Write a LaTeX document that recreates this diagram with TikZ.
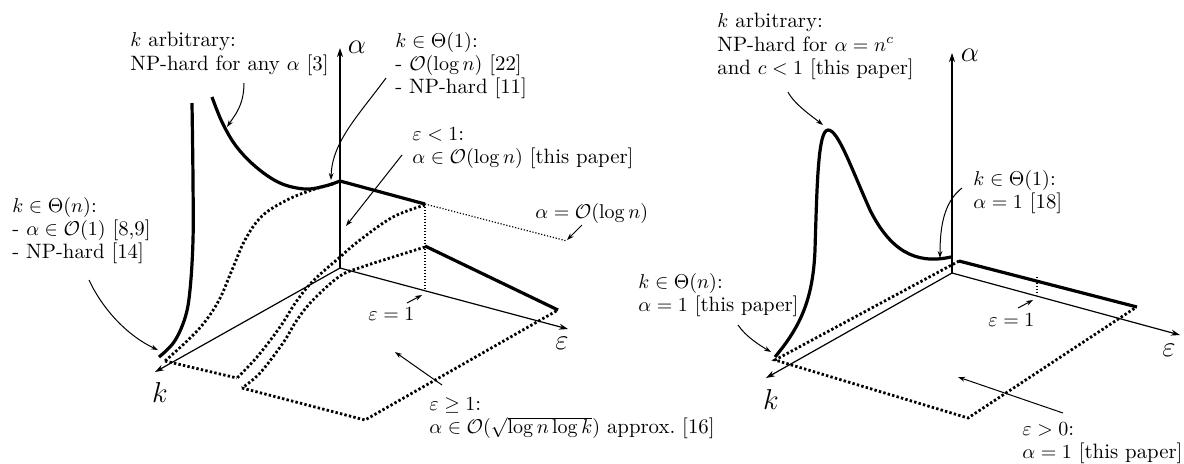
\documentclass[tikz,border=0pt]{standalone}
\usetikzlibrary{arrows.meta}
\tikzset{
  axis/.style={line width=0.6pt,-{Stealth[length=4.5pt,width=3pt]}},
  thickcurve/.style={line width=1.6pt,line join=round},
  thickdot/.style={line width=1.4pt,dash pattern=on 1.2pt off 1.1pt},
  thindot/.style={line width=0.6pt,dash pattern=on 0.6pt off 0.9pt},
  note/.style={anchor=north west,inner sep=0pt,align=left,font=\fontsize{10.4}{11.6}\selectfont},
  pointer/.style={line width=0.5pt,-{Stealth[length=3.5pt,width=2.4pt]}},
  axlabel/.style={inner sep=0pt,font=\Large}
}
\begin{document}
\begin{tikzpicture}[x=0.5pt,y=-0.5pt]
\useasboundingbox (0,0) rectangle (1184,463);

% ================= LEFT FIGURE =================
\coordinate (O1) at (340,268);
\coordinate (A1) at (340,48);
\coordinate (K1) at (155,372);
\coordinate (E1) at (568,329);
\draw[axis] (O1) -- (A1);
\draw[axis] (O1) -- (K1);
\draw[axis] (O1) -- (E1);
\node[axlabel] (la1) at (357,47) {$\alpha$};
\node[axlabel] (lk1) at (160,392) {$k$};
\node[axlabel] (le1) at (562,343) {$\varepsilon$};

\coordinate (P1) at (340,181);
\coordinate (P2) at (425,204);
\coordinate (P3) at (425,246);
\coordinate (P4) at (558,310);
\coordinate (P5) at (425,290);
\coordinate (P6) at (567,241);
\coordinate (Q1) at (165,361);
\coordinate (Q2) at (237,378);
\coordinate (Q3) at (242,388);
\coordinate (Q4) at (365,420);

% thick curves
\draw[thickcurve] plot[smooth,tension=0.6] coordinates {(212,97) (222,122) (236,146) (256,167) (280,183) (305,189) (325,186) (340,181)};
\draw[thickcurve] (P1) -- (P2);
\draw[thickcurve] plot[smooth,tension=0.6] coordinates {(192,103) (193,180) (193,240) (190,290) (185,318) (174,342) (159,357)};
\draw[thickcurve] (P3) -- (P4);

% thin dotted
\draw[thindot] (P2) -- (P5);
\draw[thindot] (P2) -- (P6);

% thick dotted curves
\draw[thickdot] plot[smooth,tension=0.6] coordinates {(333,184) (312,190) (287,200) (262,216) (245,240) (232,270) (218,302) (198,330) (165,361)};
\draw[thickdot] plot[smooth,tension=0.6] coordinates {(425,205) (393,217) (360,240) (340,257) (313,281) (296,302) (280,327) (257,357) (237,378)};
\draw[thickdot] plot[smooth,tension=0.6] coordinates {(425,247) (393,257) (362,267) (340,276) (313,300) (297,320) (283,343) (260,373) (242,388)};
\draw[thickdot] (Q1) -- (Q2);
\draw[thickdot] (Q3) -- (Q4) -- (P4);

% annotations left
\node[note] (t1) at (130,32) {$k$ arbitrary:\\NP-hard for any $\alpha$ [3]};
\node[note] (t2) at (395,32) {$k\in\Theta(1)$:\\- $\mathcal{O}(\log n)$ [22]\\- NP-hard [11]};
\node[note] (t3) at (412,127) {$\varepsilon<1$:\\$\alpha\in\mathcal{O}(\log n)$ [this paper]};
\node[note] (t4) at (535,203) {$\alpha=\mathcal{O}(\log n)$};
\node[note] (t5) at (12,197) {$k\in\Theta(n)$:\\- $\alpha\in\mathcal{O}(1)$ [8,9]\\- NP-hard [14]};
\node[note] (t6) at (368,307) {$\varepsilon=1$};
\node[note] (t7) at (429,397) {$\varepsilon\geq 1$:\\$\alpha\in\mathcal{O}(\sqrt{\log n\log k})$ approx.\ [16]};

\coordinate (a1s) at (244,83);  \coordinate (a1e) at (227,127);
\coordinate (a2s) at (386,78);  \coordinate (a2e) at (331,180);
\coordinate (a3s) at (402,155); \coordinate (a3e) at (346,226);
\coordinate (a4s) at (582,225); \coordinate (a4e) at (567,240);
\coordinate (a5s) at (89,280);  \coordinate (a5e) at (158,350);
\coordinate (a6s) at (407,303); \coordinate (a6e) at (422,295);
\coordinate (a7s) at (442,385); \coordinate (a7e) at (395,352);
\draw[pointer] (a1s) .. controls +(0,22) and +(8,-12) .. (a1e);
\draw[pointer] (a2s) .. controls +(-28,38) and +(1,-38) .. (a2e);
\draw[pointer] (a3s) -- (a3e);
\draw[pointer] (a4s) -- (a4e);
\draw[pointer] (a5s) .. controls +(14,30) and +(-30,-14) .. (a5e);
\draw[pointer] (a6s) -- (a6e);
\draw[pointer] (a7s) -- (a7e);

% ================= RIGHT FIGURE =================
\coordinate (O2) at (952,273);
\coordinate (A2) at (952,53);
\coordinate (K2) at (766,378);
\coordinate (E2) at (1180,335);
\draw[axis] (O2) -- (A2);
\draw[axis] (O2) -- (K2);
\draw[axis] (O2) -- (E2);
\node[axlabel] (la2) at (970,55) {$\alpha$};
\node[axlabel] (lk2) at (771,399) {$k$};
\node[axlabel] (le2) at (1169,350) {$\varepsilon$};

\coordinate (R1) at (959,261);
\coordinate (R2) at (1137,307);
\coordinate (R3) at (775,360);
\coordinate (R4) at (968,418);
\coordinate (R5) at (1135,308);
\coordinate (R6) at (1037,277);
\coordinate (R7) at (1037,295);

\draw[thickcurve] (R1) -- (R2);
\draw[thickdot] (R1) -- (R3) -- (R4) -- (R5);
\draw[thindot] (R6) -- (R7);
\draw[thickcurve] (775,357) .. controls (800,327) and (813,300) .. (815,250)
  .. controls (817,185) and (818,130) .. (828,130)
  .. controls (838,130) and (850,165) .. (870,210)
  .. controls (890,250) and (915,265) .. (951,257);

\node[note] (u1) at (717,13) {$k$ arbitrary:\\NP-hard for $\alpha=n^c$\\and $c<1$ [this paper]};
\node[note] (u2) at (973,170) {$k\in\Theta(1)$:\\$\alpha=1$ [18]};
\node[note] (u3) at (638,273) {$k\in\Theta(n)$:\\$\alpha=1$ [this paper]};
\node[note] (u4) at (988,313) {$\varepsilon=1$};
\node[note] (u5) at (1022,422) {$\varepsilon>0$:\\$\alpha=1$ [this paper]};

\coordinate (b1s) at (788,92);   \coordinate (b1e) at (823,125);
\coordinate (b2s) at (962,188);  \coordinate (b2e) at (940,258);
\coordinate (b3s) at (738,325);  \coordinate (b3e) at (771,352);
\coordinate (b4s) at (1018,308); \coordinate (b4e) at (1033,300);
\coordinate (b5s) at (1063,413); \coordinate (b5e) at (958,377);
\draw[pointer] (b1s) .. controls +(6,12) and +(-10,-8) .. (b1e);
\draw[pointer] (b2s) .. controls +(-18,14) and +(0,-32) .. (b2e);
\draw[pointer] (b3s) .. controls +(8,12) and +(-10,-6) .. (b3e);
\draw[pointer] (b4s) -- (b4e);
\draw[pointer] (b5s) -- (b5e);
\end{tikzpicture}
\end{document}
